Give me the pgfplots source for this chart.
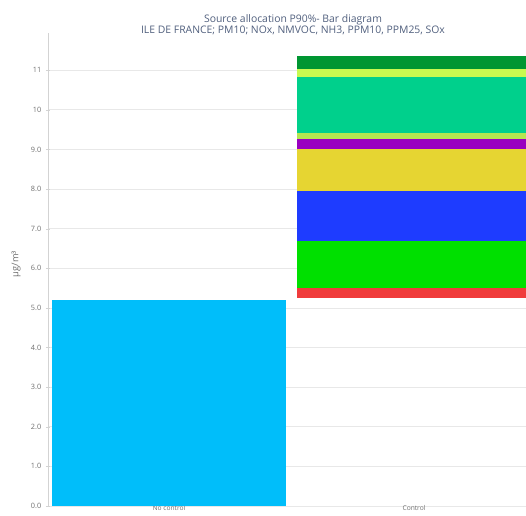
\documentclass[border=0pt]{standalone}
\usepackage{pgfplots}
\pgfplotsset{compat=1.18}
\usepackage{fontspec}
\setmainfont{Open Sans}
\definecolor{nocontrol}{RGB}{0,190,250}
\definecolor{sred}{RGB}{240,60,60}
\definecolor{sgreen}{RGB}{0,224,0}
\definecolor{sblue}{RGB}{30,60,255}
\definecolor{syellow}{RGB}{230,213,50}
\definecolor{spurple}{RGB}{153,0,192}
\definecolor{slgreen}{RGB}{180,230,80}
\definecolor{steal}{RGB}{0,208,140}
\definecolor{sygreen}{RGB}{200,250,80}
\definecolor{sdgreen}{RGB}{0,150,50}
\definecolor{titlecol}{RGB}{80,95,125}
\definecolor{tickcol}{RGB}{110,110,110}
\definecolor{gridcol}{RGB}{232,232,232}
\begin{document}
\begin{tikzpicture}[x=0.75pt,y=0.75pt]
\useasboundingbox (0,0) rectangle (526,516);
\begin{axis}[
  at={(36pt,7.5pt)}, anchor=south west,
  scale only axis, width=358.5pt, height=354.75pt,
  ybar stacked, bar width=0.955,
  xmin=-0.494, xmax=1.457, ymin=0, ymax=11.94,
  xtick={0,1}, xticklabels={No control,Control},
  ytick={0,1,...,11},
  yticklabels={0.0,1.0,2.0,3.0,4.0,5.0,6.0,7.0,8.0,9.0,10,11},
  axis x line=bottom, axis y line=left,
  axis line style={gridcol!80!gray, -},
  x axis line style={draw=none},
  ymajorgrids, grid style={gridcol, line width=0.6pt},
  major tick length=3pt,
  xtick style={draw=none},
  ytick style={gridcol!80!gray},
  ticklabel style={font=\fontsize{5.5}{6}\selectfont, text=tickcol},
  xticklabel style={font=\fontsize{5}{5.5}\selectfont, yshift=3.2pt, inner sep=1pt},
  /pgf/number format/assume math mode=true,
  every axis plot/.append style={draw=none},
  clip=true,
]
\addplot[fill=nocontrol] coordinates {(0,5.2) (1,0)};
\addplot[fill=none] coordinates {(0,0) (1,5.24)};
\addplot[fill=sred] coordinates {(0,0) (1,0.26)};
\addplot[fill=sgreen] coordinates {(0,0) (1,1.20)};
\addplot[fill=sblue] coordinates {(0,0) (1,1.26)};
\addplot[fill=syellow] coordinates {(0,0) (1,1.04)};
\addplot[fill=spurple] coordinates {(0,0) (1,0.26)};
\addplot[fill=slgreen] coordinates {(0,0) (1,0.15)};
\addplot[fill=steal] coordinates {(0,0) (1,1.42)};
\addplot[fill=sygreen] coordinates {(0,0) (1,0.20)};
\addplot[fill=sdgreen] coordinates {(0,0) (1,0.33)};
\end{axis}
\node[font=\fontsize{7}{8}\selectfont, text=tickcol, rotate=90] at (16,252) {μg/m³};
\node[font=\fontsize{7.8}{9}\selectfont, text=titlecol, align=center] at (293,491) {Source allocation P90\%- Bar diagram\\[-1pt] ILE DE FRANCE; PM10; NOx, NMVOC, NH3, PPM10, PPM25, SOx};
\end{tikzpicture}
\end{document}
